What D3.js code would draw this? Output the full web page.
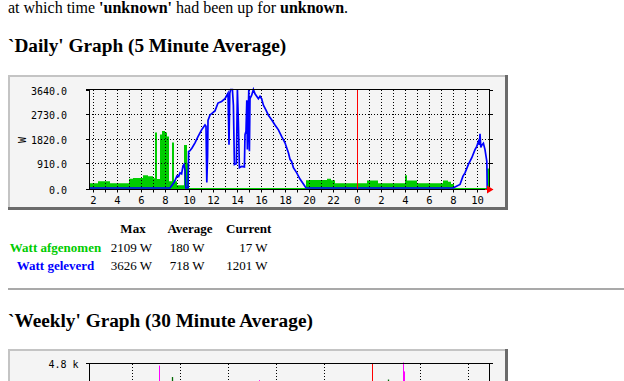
<!DOCTYPE html>
<html><head><meta charset="utf-8">
<script src="https://cdn.jsdelivr.net/npm/d3@7"></script>
<style>
html,body{margin:0;padding:0;background:#fff;overflow:hidden;}
svg{display:block;}
text{white-space:pre;}
.serif{font-family:"Liberation Serif","Times New Roman",serif;}
.mono{font-family:"DejaVu Sans Mono",monospace;}
</style></head><body>
<svg id="c" width="624" height="381"></svg>
<script>
// ---------- DATA ----------
const introParts = [["at which time ", false], ["'unknown'", true], [" had been up for ", false], ["unknown", true], [".", false]];
const dailyTitle = "`Daily' Graph (5 Minute Average)";
const weeklyTitle = "`Weekly' Graph (30 Minute Average)";

// daily graph: minutes relative to midnight (negative = previous day)
const dailyStart = -1340, dailyEnd = 660;
const dailyMax = 3640;
const dailyYTicks = [0, 910, 1820, 2730, 3640];
const dailyYTickLabels = ["0.0", "910.0", "1820.0", "2730.0", "3640.0"];
const dailyHours = [-22,-21,-20,-19,-18,-17,-16,-15,-14,-13,-12,-11,-10,-9,-8,-7,-6,-5,-4,-3,-2,-1,0,1,2,3,4,5,6,7,8,9,10];
const dailyLabelHours = [-22,-20,-18,-16,-14,-12,-10,-8,-6,-4,-2,0,2,4,6,8,10];
const yUnit = "W";

// Watt afgenomen (green, step area)
const inMinutes = [-1340,-1295,-1235,-1140,-1120,-1070,-1045,-1020,-1010,-1000,-985,-975,-960,-950,-940,-925,-915,-900,-865,-850,-840,-255,-240,-150,-130,-110,50,105,240,250,300,430,455,470,485,650,660];
const inWatts   = [180,250,180,340,370,470,430,360,2050,330,1980,2109,2050,1900,250,1680,250,100,1590,930,0,290,300,340,290,180,280,180,470,280,180,280,230,150,0,720,720];

// Watt geleverd (blue line)
const outMinutes = [-1340,-935,-925,-915,-907,-900,-892,-885,-877,-870,-865,-860,-856,-845,-842,-835,-825,-810,-795,-777,-760,-755,-751,-747,-745,-735,-710,-695,-677,-660,-645,-640,-636,-632,-623,-618,-613,-603,-598,-593,-588,-576,-563,-560,-555,-551,-548,-541,-538,-535,-527,-518,-510,-493,-485,-477,-468,-455,-443,-426,-410,-393,-377,-360,-350,-343,-335,-327,-318,-302,-285,-268,-255,480,490,515,530,540,557,574,590,599,607,612,615,619,624,632,640,649,651,660];
const outWatts   = [0,0,100,200,330,450,420,560,520,820,870,650,0,0,1350,1380,1480,1670,1900,2150,2330,2280,200,1200,2500,2700,2850,3140,3200,3300,3500,1600,3500,3640,3640,3060,870,900,3640,2400,750,800,780,1970,2100,3240,1420,3640,1360,3300,3420,3640,3480,3300,3390,3300,3060,2880,2690,2510,2330,2150,1910,1670,1450,1300,1060,980,750,570,330,150,0,0,40,130,440,560,870,1120,1420,1540,1720,1600,2000,1500,1580,1650,1420,990,0,0];

// legend table
const legendHeaders = ["Max", "Average", "Current"];
const legendNames = ["Watt afgenomen", "Watt geleverd"];
const legendColors = ["#00cc00", "#0000ff"];
const legendMax = ["2109 W", "3626 W"];
const legendAvg = ["180 W", "718 W"];
const legendCur = ["17 W", "1201 W"];

// weekly graph: hours relative to week start
const weeklyStart = -141.65, weeklyEnd = 58.35;
const weeklyMax = 4800;
const weeklyYLabel = "4.8 k";
const weeklyDayTicks = [-120, -96, -72, -48, -24, 0, 24, 48];
const weeklyMaxInHours = [-100.15, 8.2];
const weeklyMaxIn = [4150, 4030];
const weeklyMaxOutHours = [-106.5, -56.5, 15.7, 16.2];
const weeklyMaxOut = [4700, 4000, 4850, 4420];

// ---------- DRAW ----------
const svg = d3.select("#c");
svg.append("rect").attr("width", 624).attr("height", 381).attr("fill", "#fff");

// intro line
const intro = svg.append("text").attr("class", "serif").attr("x", 8).attr("y", 12.7)
  .attr("font-size", 16).attr("fill", "#000");
introParts.forEach(p => intro.append("tspan").attr("class", "serif")
  .attr("font-weight", p[1] ? "bold" : "normal").text(p[0]));

svg.append("text").attr("class", "serif").attr("x", 8).attr("y", 52.3)
  .attr("font-size", 19.3).attr("font-weight", "bold").text(dailyTitle);

function frame(top) {
  svg.append("rect").attr("x", 8).attr("y", top).attr("width", 500).attr("height", 135).attr("fill", "#f4f4f4");
  svg.append("rect").attr("x", 8).attr("y", top).attr("width", 500).attr("height", 2).attr("fill", "#c4c4c4");
  svg.append("rect").attr("x", 8).attr("y", top).attr("width", 2).attr("height", 135).attr("fill", "#c4c4c4");
  svg.append("rect").attr("x", 505).attr("y", top).attr("width", 3).attr("height", 135).attr("fill", "#6b6b6b");
  svg.append("rect").attr("x", 8).attr("y", top + 132).attr("width", 500).attr("height", 3).attr("fill", "#6b6b6b");
}

// ---- daily graph
frame(75);
const x = d3.scaleLinear().domain([dailyStart, dailyEnd]).range([89, 489]);
const y = d3.scaleLinear().domain([0, dailyMax]).range([188, 89.5]);
const g = svg.append("g");

// green area
const inData = inMinutes.map((m, i) => ({m, v: inWatts[i]}));
g.append("path").datum(inData)
  .attr("d", d3.area().curve(d3.curveStepAfter).x(d => x(d.m)).y0(189).y1(d => y(d.v)))
  .attr("fill", "#00cc00");

// grid
const grid = g.append("g").attr("stroke", "#000").attr("stroke-width", 1).attr("stroke-dasharray", "1,2");
dailyYTicks.slice(1, -1).forEach(v => {
  const yy = Math.round(y(v)) + 0.5;
  grid.append("line").attr("x1", 89).attr("x2", 489).attr("y1", yy).attr("y2", yy);
});
dailyHours.filter(h => h !== 0).forEach(h => {
  const xx = Math.round(x(h * 60)) + 0.5;
  grid.append("line").attr("x1", xx).attr("x2", xx).attr("y1", 90).attr("y2", 189);
});

// blue line
const outData = outMinutes.map((m, i) => ({m, v: outWatts[i]}));
g.append("path").datum(outData)
  .attr("d", d3.line().x(d => x(d.m)).y(d => y(d.v)))
  .attr("fill", "none").attr("stroke", "#0000ff").attr("stroke-width", 1.7);

// midnight red line
const x0 = Math.round(x(0)) + 0.5;
g.append("line").attr("x1", x0).attr("x2", x0).attr("y1", 89).attr("y2", 189).attr("stroke", "#ff0000");

// axes
const ax = g.append("g").attr("stroke", "#000").attr("stroke-width", 1);
ax.append("line").attr("x1", 86).attr("x2", 490).attr("y1", 89.5).attr("y2", 89.5);
ax.append("line").attr("x1", 86).attr("x2", 489).attr("y1", 189.5).attr("y2", 189.5);
ax.append("line").attr("x1", 89.5).attr("x2", 89.5).attr("y1", 89).attr("y2", 190);
ax.append("line").attr("x1", 489.5).attr("x2", 489.5).attr("y1", 89).attr("y2", 190);
dailyYTicks.forEach(v => {
  const yy = v === 0 ? 189.5 : Math.round(y(v)) + 0.5;
  ax.append("line").attr("x1", 86).attr("x2", 89).attr("y1", yy).attr("y2", yy);
  ax.append("line").attr("x1", 490).attr("x2", 493).attr("y1", yy).attr("y2", yy);
});
dailyHours.forEach(h => {
  const xx = Math.round(x(h * 60)) + 0.5;
  ax.append("line").attr("x1", xx).attr("x2", xx).attr("y1", 190).attr("y2", 192.5);
});
// red arrow
g.append("line").attr("x1", 485).attr("x2", 489).attr("y1", 189.5).attr("y2", 189.5).attr("stroke", "#ff0000");
g.append("path").attr("d", "M487,185.5L493.5,189.5L487,193.5Z").attr("fill", "#ff0000");

// labels
dailyYTicks.forEach((v, i) => {
  const yy = v === 0 ? 189 : Math.round(y(v));
  svg.append("text").attr("class", "mono").attr("x", 67).attr("y", yy + 4.6).attr("text-anchor", "end")
    .attr("font-size", 10).attr("fill", "#000").text(dailyYTickLabels[i]);
});
dailyLabelHours.forEach(h => {
  svg.append("text").attr("class", "mono").attr("x", Math.round(x(h * 60)) + 0.5).attr("y", 203.5)
    .attr("text-anchor", "middle").attr("font-size", 10.5).attr("fill", "#000").text(((h % 24) + 24) % 24);
});
svg.append("text").attr("class", "mono").attr("transform", "translate(22.5,140) rotate(-90)").attr("text-anchor", "middle")
  .attr("dominant-baseline", "central").attr("font-size", 10).text(yUnit);

// ---- legend table
const colRight = [152, 204.5, 267.5];
const colCenter = [133, 190, 248.7];
const rowBase = [232.7, 251.7, 270];
legendHeaders.forEach((h, i) => {
  svg.append("text").attr("class", "serif").attr("x", colCenter[i]).attr("y", rowBase[0]).attr("text-anchor", "middle")
    .attr("font-size", 13).attr("font-weight", "bold").text(h);
});
legendNames.forEach((n, r) => {
  svg.append("text").attr("class", "serif").attr("x", 55.5).attr("y", rowBase[r + 1]).attr("text-anchor", "middle")
    .attr("font-size", 13).attr("font-weight", "bold")
    .attr("fill", legendColors[r]).text(n);
  [legendMax[r], legendAvg[r], legendCur[r]].forEach((val, c) => {
    svg.append("text").attr("class", "serif").attr("x", colRight[c]).attr("y", rowBase[r + 1]).attr("text-anchor", "end")
      .attr("font-size", 13).text(val);
  });
});

// hr
svg.append("rect").attr("x", 8).attr("y", 288).attr("width", 616).attr("height", 2).attr("fill", "#a9a9a9");

svg.append("text").attr("class", "serif").attr("x", 8).attr("y", 326.8)
  .attr("font-size", 19.3).attr("font-weight", "bold").text(weeklyTitle);

// ---- weekly graph
frame(349);
const xw = d3.scaleLinear().domain([weeklyStart, weeklyEnd]).range([89, 489]);
const yw = d3.scaleLinear().domain([0, weeklyMax]).range([463.5, 363.5]);
const wg = svg.append("g");
weeklyDayTicks.filter(d => d !== 0).forEach(d => {
  const xx = Math.round(xw(d)) + 0.5;
  wg.append("line").attr("x1", xx).attr("x2", xx).attr("y1", 364).attr("y2", 463)
    .attr("stroke", "#000").attr("stroke-dasharray", "1,2");
});
const xr = Math.round(xw(0)) + 0.5;
wg.append("line").attr("x1", xr).attr("x2", xr).attr("y1", 363).attr("y2", 463).attr("stroke", "#ff0000");
weeklyMaxOutHours.forEach((h, i) => {
  const xx = Math.floor(xw(h)) + 0.5;
  wg.append("line").attr("x1", xx).attr("x2", xx).attr("y1", yw(weeklyMaxOut[i])).attr("y2", 463).attr("stroke", "#ff00ff");
});
weeklyMaxInHours.forEach((h, i) => {
  const xx = Math.floor(xw(h)) + 0.5;
  wg.append("line").attr("x1", xx).attr("x2", xx).attr("y1", yw(weeklyMaxIn[i])).attr("y2", 463).attr("stroke", "#006600").attr("stroke-width", 1.3);
});
wg.append("line").attr("x1", 86).attr("x2", 490).attr("y1", 363.5).attr("y2", 363.5).attr("stroke", "#000");
wg.append("line").attr("x1", 89.5).attr("x2", 89.5).attr("y1", 363).attr("y2", 464).attr("stroke", "#000");
wg.append("line").attr("x1", 489.5).attr("x2", 489.5).attr("y1", 363).attr("y2", 464).attr("stroke", "#000");
wg.append("line").attr("x1", 490).attr("x2", 493).attr("y1", 363.5).attr("y2", 363.5).attr("stroke", "#000");
svg.append("text").attr("class", "mono").attr("x", 78.5).attr("y", 368).attr("text-anchor", "end")
  .attr("font-size", 10).text(weeklyYLabel);
</script>
</body></html>
